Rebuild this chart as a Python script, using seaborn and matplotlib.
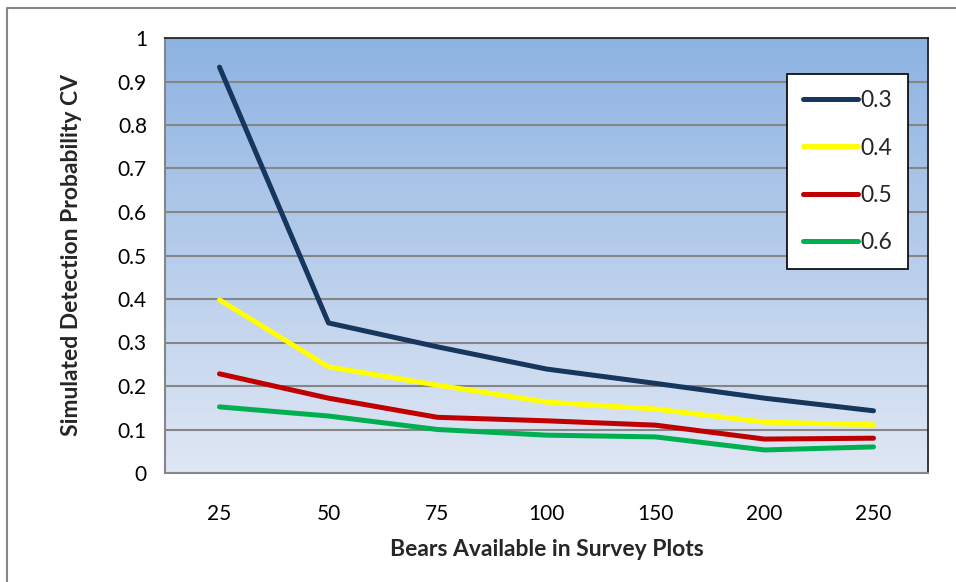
import numpy as np
import pandas as pd
import matplotlib
matplotlib.use("Agg")
import matplotlib.pyplot as plt
from matplotlib.colors import LinearSegmentedColormap
from matplotlib.lines import Line2D
import seaborn as sns

# Bears available in survey plots (category labels)
bears = ["25", "50", "75", "100", "150", "200", "250"]

# Simulated detection probability CV for each detection probability
cv_03 = [0.933, 0.345, 0.290, 0.239, 0.206, 0.172, 0.143]
cv_04 = [0.398, 0.244, 0.202, 0.163, 0.147, 0.117, 0.111]
cv_05 = [0.228, 0.172, 0.128, 0.120, 0.110, 0.078, 0.080]
cv_06 = [0.152, 0.131, 0.100, 0.087, 0.083, 0.053, 0.060]

series_names = ["0.3", "0.4", "0.5", "0.6"]
series_values = [cv_03, cv_04, cv_05, cv_06]
series_colors = ["#17365D", "#FFFF00", "#C00000", "#00B050"]

rows = []
for name, vals in zip(series_names, series_values):
    for b, v in zip(bears, vals):
        rows.append({"bears": b, "cv": v, "p": name})
df = pd.DataFrame(rows)

sns.set_style("white")
plt.rcParams["font.family"] = ["Lato", "DejaVu Sans"]

fig = plt.figure(figsize=(9.56, 5.82), dpi=100)
ax = fig.add_axes([165 / 956, 109 / 582, 763 / 956, 435 / 582])

# vertical gradient background for the plot area
grad = LinearSegmentedColormap.from_list("bg", ["#E0E7F4", "#8DB3E2"])
ax.imshow(np.linspace(0, 1, 256).reshape(-1, 1), cmap=grad, origin="lower",
          aspect="auto", extent=[0, 1, 0, 1], transform=ax.transAxes, zorder=0)

sns.lineplot(data=df, x="bears", y="cv", hue="p", palette=series_colors,
             sort=False, linewidth=3.6, ax=ax, zorder=3)
for ln in ax.get_lines():
    ln.set_solid_capstyle("round")
    ln.set_solid_joinstyle("round")

ax.set_xlim(-0.5, len(bears) - 0.5)
ax.set_ylim(0, 1)
ax.set_yticks(np.arange(0, 1.01, 0.1))
ax.set_yticklabels(["0", "0.1", "0.2", "0.3", "0.4", "0.5", "0.6", "0.7", "0.8", "0.9", "1"])
ax.set_xticks(range(len(bears)))
ax.set_xticklabels(bears)
ax.set_xticks(np.arange(-0.5, len(bears), 1.0), minor=True)
ax.tick_params(axis="x", which="major", length=0, pad=22, labelsize=15, colors="black")
ax.tick_params(axis="x", which="minor", length=6, width=1.2, color="#868686", direction="out")
ax.tick_params(axis="y", which="major", length=6, width=1.2, color="#868686", direction="out",
               pad=7, labelsize=15, labelcolor="black")

ax.yaxis.grid(True, color="#868686", linewidth=1.5, zorder=1)
ax.set_axisbelow(True)

for side in ["left", "bottom"]:
    ax.spines[side].set_color("#868686")
    ax.spines[side].set_linewidth(1.5)
for side in ["top", "right"]:
    ax.spines[side].set_color("#1a1a1a")
    ax.spines[side].set_linewidth(1.2)

ax.set_xlabel("Bears Available in Survey Plots", fontsize=16.5, fontweight="bold", labelpad=11)
ax.set_ylabel("Simulated Detection Probability CV", fontsize=16.5, fontweight="bold", labelpad=26)

leg = ax.legend(title=None, loc="upper right", bbox_to_anchor=(0.974, 0.917),
                fontsize=16.5, frameon=True, fancybox=False, handlelength=2.4,
                handletextpad=0.1, labelspacing=1.15, borderpad=0.7,
                borderaxespad=0)
leg.get_frame().set_edgecolor("black")
leg.get_frame().set_linewidth(1.2)
leg.get_frame().set_facecolor("white")
leg.get_frame().set_alpha(1)
for h in leg.get_lines():
    h.set_linewidth(3.6)
    h.set_solid_capstyle("round")

# outer chart border (left and top edges)
fig.add_artist(Line2D([7 / 956, 7 / 956, 1.0], [0.0, 1 - 8 / 582, 1 - 8 / 582],
                      transform=fig.transFigure, color="#868686", linewidth=1.5))

fig.savefig("out.png", dpi=100)
